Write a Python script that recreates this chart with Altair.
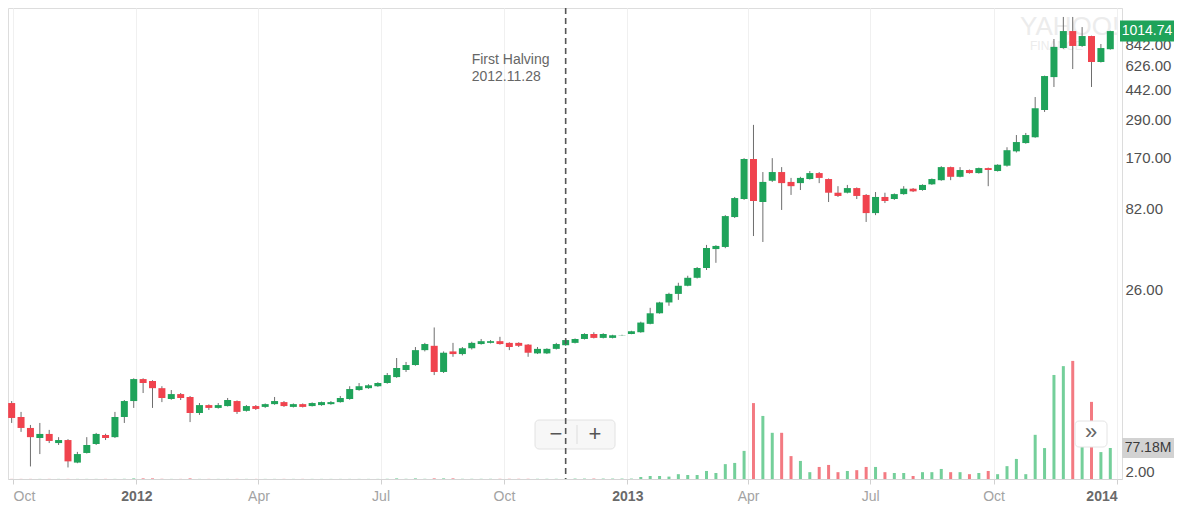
import altair as alt
import pandas as pd

# ---------------- data (weekly candles, USD) ----------------
first_week = "2011-09-30"

opens = [
    5.25, 4.31, 3.69, 3.20, 3.39, 2.98, 3.11, 2.26, 2.59, 2.94,
    3.34, 3.24, 4.31, 5.40, 7.37, 7.17, 6.48, 5.56, 5.96, 5.72,
    4.56, 5.10, 4.90, 5.03, 5.40, 4.70, 5.03, 4.97, 5.17, 5.32,
    4.97, 5.17, 5.03, 5.10, 5.17, 5.32, 5.56, 6.31, 6.48, 6.66,
    6.97, 7.58, 8.38, 8.99, 11.1, 11.8, 8.15, 10.9, 10.5, 11.4,
    12.1, 12.3, 12.6, 12.3, 12.3, 12.0, 10.6, 10.6, 11.3, 11.9,
    12.3, 13.0, 13.95, 13.2, 13.2, 13.7, 13.95, 14.3, 16.1, 18.7,
    21.8, 24.6, 27.6, 30.9, 35.5, 46.4, 47.8, 73.0, 94.2, 166,
    90.3, 122, 138, 120, 118, 125, 136, 125, 103, 103,
    110, 99.8, 77.2, 97, 94.2, 101, 109, 107, 116, 123,
    148, 129, 142, 136, 146, 140, 151, 185, 208, 226,
    332, 529, 798, 1015, 822, 946, 655, 785,
]
closes = [
    4.25, 3.69, 3.24, 3.39, 3.07, 3.11, 2.30, 2.55, 2.90, 3.39,
    3.20, 4.31, 5.40, 7.37, 6.97, 6.48, 5.64, 5.96, 5.64, 4.56,
    5.10, 4.90, 5.10, 5.48, 4.63, 5.03, 4.83, 5.17, 5.40, 5.03,
    5.17, 4.97, 5.25, 5.32, 5.32, 5.64, 6.40, 6.66, 6.75, 6.97,
    7.80, 8.62, 8.99, 11.1, 12.1, 8.15, 10.7, 10.5, 11.4, 12.3,
    12.6, 12.6, 12.1, 11.6, 11.8, 10.7, 11.3, 11.3, 12.1, 12.8,
    13.0, 13.95, 13.2, 13.95, 13.7, 13.75, 14.5, 16.4, 18.7, 21.8,
    24.6, 27.6, 30.9, 35.5, 47.1, 48.5, 74.0, 95.5, 166, 91.6,
    120, 138, 118, 113, 127, 136, 127, 103, 98.4, 110,
    98.4, 77.2, 97, 91.6, 101, 109, 105, 115, 125, 148,
    129, 142, 136, 146, 142, 153, 188, 211, 233, 341,
    537, 811, 1015, 822, 946, 655, 798, 1014.74,
]
highs = [
    5.40, 4.63, 3.85, 3.96, 3.59, 3.24, 3.15, 2.63, 3.24, 3.44,
    3.40, 4.63, 5.48, 7.45, 7.45, 7.25, 6.66, 6.31, 6.05, 5.80,
    5.25, 5.15, 5.25, 5.64, 5.45, 5.10, 5.10, 5.22, 5.72, 5.40,
    5.22, 5.22, 5.30, 5.36, 5.40, 5.80, 6.66, 6.97, 6.85, 7.05,
    8.03, 9.93, 9.39, 11.6, 12.3, 15.3, 10.9, 12.3, 11.6, 12.5,
    13.0, 12.8, 13.4, 12.4, 12.4, 12.1, 11.6, 11.4, 12.3, 13.0,
    13.1, 14.1, 14.3, 14.1, 13.8, 13.8, 14.6, 16.6, 20.2, 22.0,
    25.0, 28.8, 31.8, 36.0, 49.2, 49.0, 75, 97, 168, 269,
    138, 168, 148, 127, 129, 140, 138, 126, 113, 115,
    111, 101, 104, 103, 102, 113, 110, 116, 126, 150,
    149, 148, 143, 147, 147, 154, 196, 233, 240, 399,
    540, 907, 1239, 1239, 1074, 950, 845, 1020,
]
lows = [
    3.96, 3.49, 2.14, 2.55, 2.98, 2.90, 2.11, 2.24, 2.57, 2.90,
    3.11, 3.20, 3.96, 4.90, 6.05, 4.90, 5.32, 5.50, 5.48, 4.01,
    4.44, 4.76, 4.85, 5.00, 4.50, 4.65, 4.76, 4.90, 5.12, 4.97,
    4.93, 4.93, 5.00, 5.05, 5.12, 5.28, 5.50, 6.25, 6.42, 6.60,
    6.90, 7.50, 8.15, 8.90, 10.9, 7.80, 8.03, 10.1, 10.3, 11.2,
    12.0, 12.2, 12.0, 11.1, 11.6, 10.1, 10.5, 10.5, 11.2, 11.8,
    12.2, 12.9, 13.1, 13.1, 13.1, 13.65, 13.9, 14.2, 16.0, 18.6,
    20.8, 22.6, 27.4, 30.6, 34.5, 38.2, 47, 72, 93, 55.8,
    51.3, 120, 80.7, 99.8, 107, 124, 118, 90.3, 97, 102,
    94.2, 68.1, 75, 89, 93, 100, 104, 106, 115, 122,
    123, 128, 135, 135, 113, 139, 149, 182, 206, 224,
    323, 460, 790, 593, 811, 460, 650, 780,
]
volumes_m = [
    0.3, 0.3, 0.3, 0.3, 0.3, 0.3, 0.3, 0.3, 0.3, 0.3,
    0.3, 0.3, 0.5, 1.5, 1.5, 1.5, 0.5, 0.3, 0.3, 1.5,
    0.3, 0.3, 0.3, 0.3, 0.3, 0.3, 0.3, 0.3, 0.3, 0.3,
    0.3, 0.3, 0.3, 0.3, 0.3, 0.3, 0.3, 0.3, 0.3, 0.3,
    0.5, 1.5, 0.5, 1.5, 0.5, 1.5, 1.5, 1.5, 0.5, 0.5,
    0.5, 0.5, 0.5, 0.5, 0.5, 0.5, 0.5, 0.5, 0.5, 0.5,
    1.0, 1.0, 1.0, 1.0, 1.0, 1.0, 1.0, 5, 7.5, 7.5,
    6, 12, 10, 10, 20, 15, 37, 40, 70, 189,
    157, 115, 115, 57, 45, 17, 30, 35, 17, 20,
    22, 30, 30, 17, 15, 15, 7.5, 17, 17, 25,
    17, 17, 12, 15, 20, 12, 32, 50, 12, 110,
    77, 259, 281, 294, 82, 192, 67, 77.18,
]

price_ticks = [2, 26, 82, 170, 290, 442, 626, 842, 1090]
x_tick_months = [(2011, 10), (2012, 1), (2012, 4), (2012, 7), (2012, 10),
                 (2013, 1), (2013, 4), (2013, 7), (2013, 10), (2014, 1)]
halving_label = ["First Halving", "2012.11.28"]
halving_pos = "2012-11-16"   # where the reference draws the dashed line

# ---------------- build table ----------------
dates = pd.date_range(first_week, periods=len(opens), freq="7D").strftime("%Y-%m-%d")
df = pd.DataFrame({
    "date": dates, "open": opens, "high": highs, "low": lows,
    "close": closes, "volume": volumes_m,
})
last_df = df.tail(1)
one = pd.DataFrame({"a": [0]})
halv_df = pd.DataFrame({"date": [halving_pos], "l1": [halving_label[0]], "l2": [halving_label[1]]})

W, H = 1114, 471
FONT = "Liberation Sans"
GREEN, RED = "#1fa35a", "#f0434e"
VGREEN, VRED = "#74cf9a", "#f37a82"
up = "datum.close >= datum.open"

x_scale = alt.Scale(
    type="utc", nice=False,
    domain=[alt.DateTime(year=2011, month=10, date=1, utc=True),
            alt.DateTime(year=2014, month=1, date=1, utc=True)],
)
is_year = "utcmonth(datum.value) == 0"
x_axis = alt.Axis(
    values=[alt.DateTime(year=y, month=m, date=1, utc=True) for y, m in x_tick_months],
    labelExpr=f"{is_year} ? utcFormat(datum.value, '%Y') : utcFormat(datum.value, '%b')",
    labelColor={"condition": {"test": is_year, "value": "#6a6a6a"}, "value": "#a3a3a3"},
    labelFontWeight={"condition": {"test": is_year, "value": "bold"}, "value": "normal"},
    labelAlign={"condition": [
        {"test": "utcyear(datum.value) < 2012", "value": "left"},
        {"test": "utcyear(datum.value) > 2013", "value": "right"},
    ], "value": "center"},
    labelFontSize=14, labelFont=FONT, labelOverlap=False,
    labelPadding=5, tickSize=5, tickColor="#d0d0d0", domainColor="#d5d5d5",
    gridColor="#f0f0f0", title=None,
)
X = alt.X("date:T", scale=x_scale, axis=x_axis)

price_scale = alt.Scale(type="log", domain=[1.7918, 1406.6], nice=False)
price_axis = alt.Axis(
    orient="right", values=price_ticks,
    labelExpr="datum.value > 1000 ? '' : format(datum.value, '.2f')",
    ticks=False, domainColor="#dcdcdc", labelColor="#505050", labelFontSize=15,
    labelFont=FONT, labelPadding=3, labelOverlap=False, gridColor="#eeeeee", title=None,
)
vol_scale = alt.Scale(domain=[0, 1172.6], nice=False)

# ---------------- volume group ----------------
vol = alt.Chart(df).mark_bar(size=3, clip=True).encode(
    x=X,
    y=alt.Y("volume:Q", scale=vol_scale, axis=None),
    color=alt.condition(up, alt.value(VGREEN), alt.value(VRED)),
)
vtag_rect = alt.Chart(last_df).mark_rect(color="#d2d2d2", yOffset=-10, y2Offset=10).encode(
    x=alt.value(1114), x2=alt.value(1166),
    y=alt.Y("volume:Q", scale=vol_scale, axis=None), y2="volume:Q",
)
vtag_m = alt.Chart(last_df).transform_calculate(
    lab="format(datum.volume, '.2f') + 'M'"
).mark_text(color="#3a3a3a", fontSize=14, font=FONT).encode(
    x=alt.value(1140),
    y=alt.Y("volume:Q", scale=vol_scale, axis=None),
    text="lab:N",
)
vol_group = alt.layer(vol, vtag_rect, vtag_m)

# ---------------- price group ----------------
wicks = alt.Chart(df).mark_rule(color="#6e6e6e", strokeWidth=1, clip=True).encode(
    x=X, y=alt.Y("low:Q", scale=price_scale, axis=price_axis), y2="high:Q",
)
bodies = alt.Chart(df).mark_bar(size=7, clip=True).encode(
    x=X, y=alt.Y("open:Q", scale=price_scale, axis=price_axis), y2="close:Q",
    color=alt.condition(up, alt.value(GREEN), alt.value(RED)),
)
ptag_rect = alt.Chart(last_df).mark_rect(color=GREEN, yOffset=-10.5, y2Offset=10.5).encode(
    x=alt.value(1112), x2=alt.value(1166),
    y=alt.Y("close:Q", scale=price_scale, axis=price_axis), y2="close:Q",
)
ptag_text = alt.Chart(last_df).mark_text(color="white", fontSize=14, font=FONT).encode(
    x=alt.value(1139),
    y=alt.Y("close:Q", scale=price_scale, axis=price_axis),
    text=alt.Text("close:Q", format=".2f"),
)
price_group = alt.layer(wicks, bodies, ptag_rect, ptag_text)

# ---------------- decorations ----------------
wm1 = alt.Chart(one).mark_text(text="YAHOO!", color="#ececec", fontSize=26, font=FONT,
                               align="left", clip=True).encode(x=alt.value(1012), y=alt.value(19))
wm2 = alt.Chart(one).mark_text(text="FINANCE", color="#ececec", fontSize=12, font=FONT,
                               align="left", clip=True).encode(x=alt.value(1022), y=alt.value(38))

zoom_box = alt.Chart(one).mark_rect(fill="#f7f7f7", stroke="#e2e2e2", cornerRadius=4).encode(
    x=alt.value(527), x2=alt.value(607), y=alt.value(412), y2=alt.value(441))
zoom_sep = alt.Chart(one).mark_rule(color="#dddddd").encode(
    x=alt.value(569), y=alt.value(417), y2=alt.value(436))
zoom_minus = alt.Chart(one).mark_text(text="\u2212", color="#555555", fontSize=22, font=FONT).encode(
    x=alt.value(548), y=alt.value(426))
zoom_plus = alt.Chart(one).mark_text(text="+", color="#555555", fontSize=22, font=FONT).encode(
    x=alt.value(587), y=alt.value(426))
next_box = alt.Chart(one).mark_rect(fill="white", stroke="#e4e4e4", cornerRadius=4).encode(
    x=alt.value(1067), x2=alt.value(1099), y=alt.value(413), y2=alt.value(439))
next_text = alt.Chart(one).mark_text(text="\u00bb", color="#666666", fontSize=22, font=FONT).encode(
    x=alt.value(1083), y=alt.value(424))

halving_rule = alt.Chart(halv_df).mark_rule(color="#555555", strokeWidth=1.6, strokeDash=[6, 4]).encode(x=X)
halving_t1 = alt.Chart(halv_df).mark_text(align="left", dx=-94, color="#666666", fontSize=14, font=FONT).encode(
    x=X, y=alt.value(52), text="l1:N")
halving_t2 = alt.Chart(halv_df).mark_text(align="left", dx=-94, color="#666666", fontSize=14, font=FONT).encode(
    x=X, y=alt.value(69), text="l2:N")

chart = alt.layer(
    wm1, wm2, vol_group, price_group,
    zoom_box, zoom_sep, zoom_minus, zoom_plus, next_box, next_text,
    halving_rule, halving_t1, halving_t2,
).resolve_scale(y="independent").properties(
    width=W, height=H,
    autosize=alt.AutoSizeParams(type="none"),
    padding={"left": 0, "top": 0, "right": 52, "bottom": 27},
).configure_view(stroke="#e6e6e6").configure(font=FONT)

chart.save("out.html", embed_options={"renderer": "svg", "actions": False})
